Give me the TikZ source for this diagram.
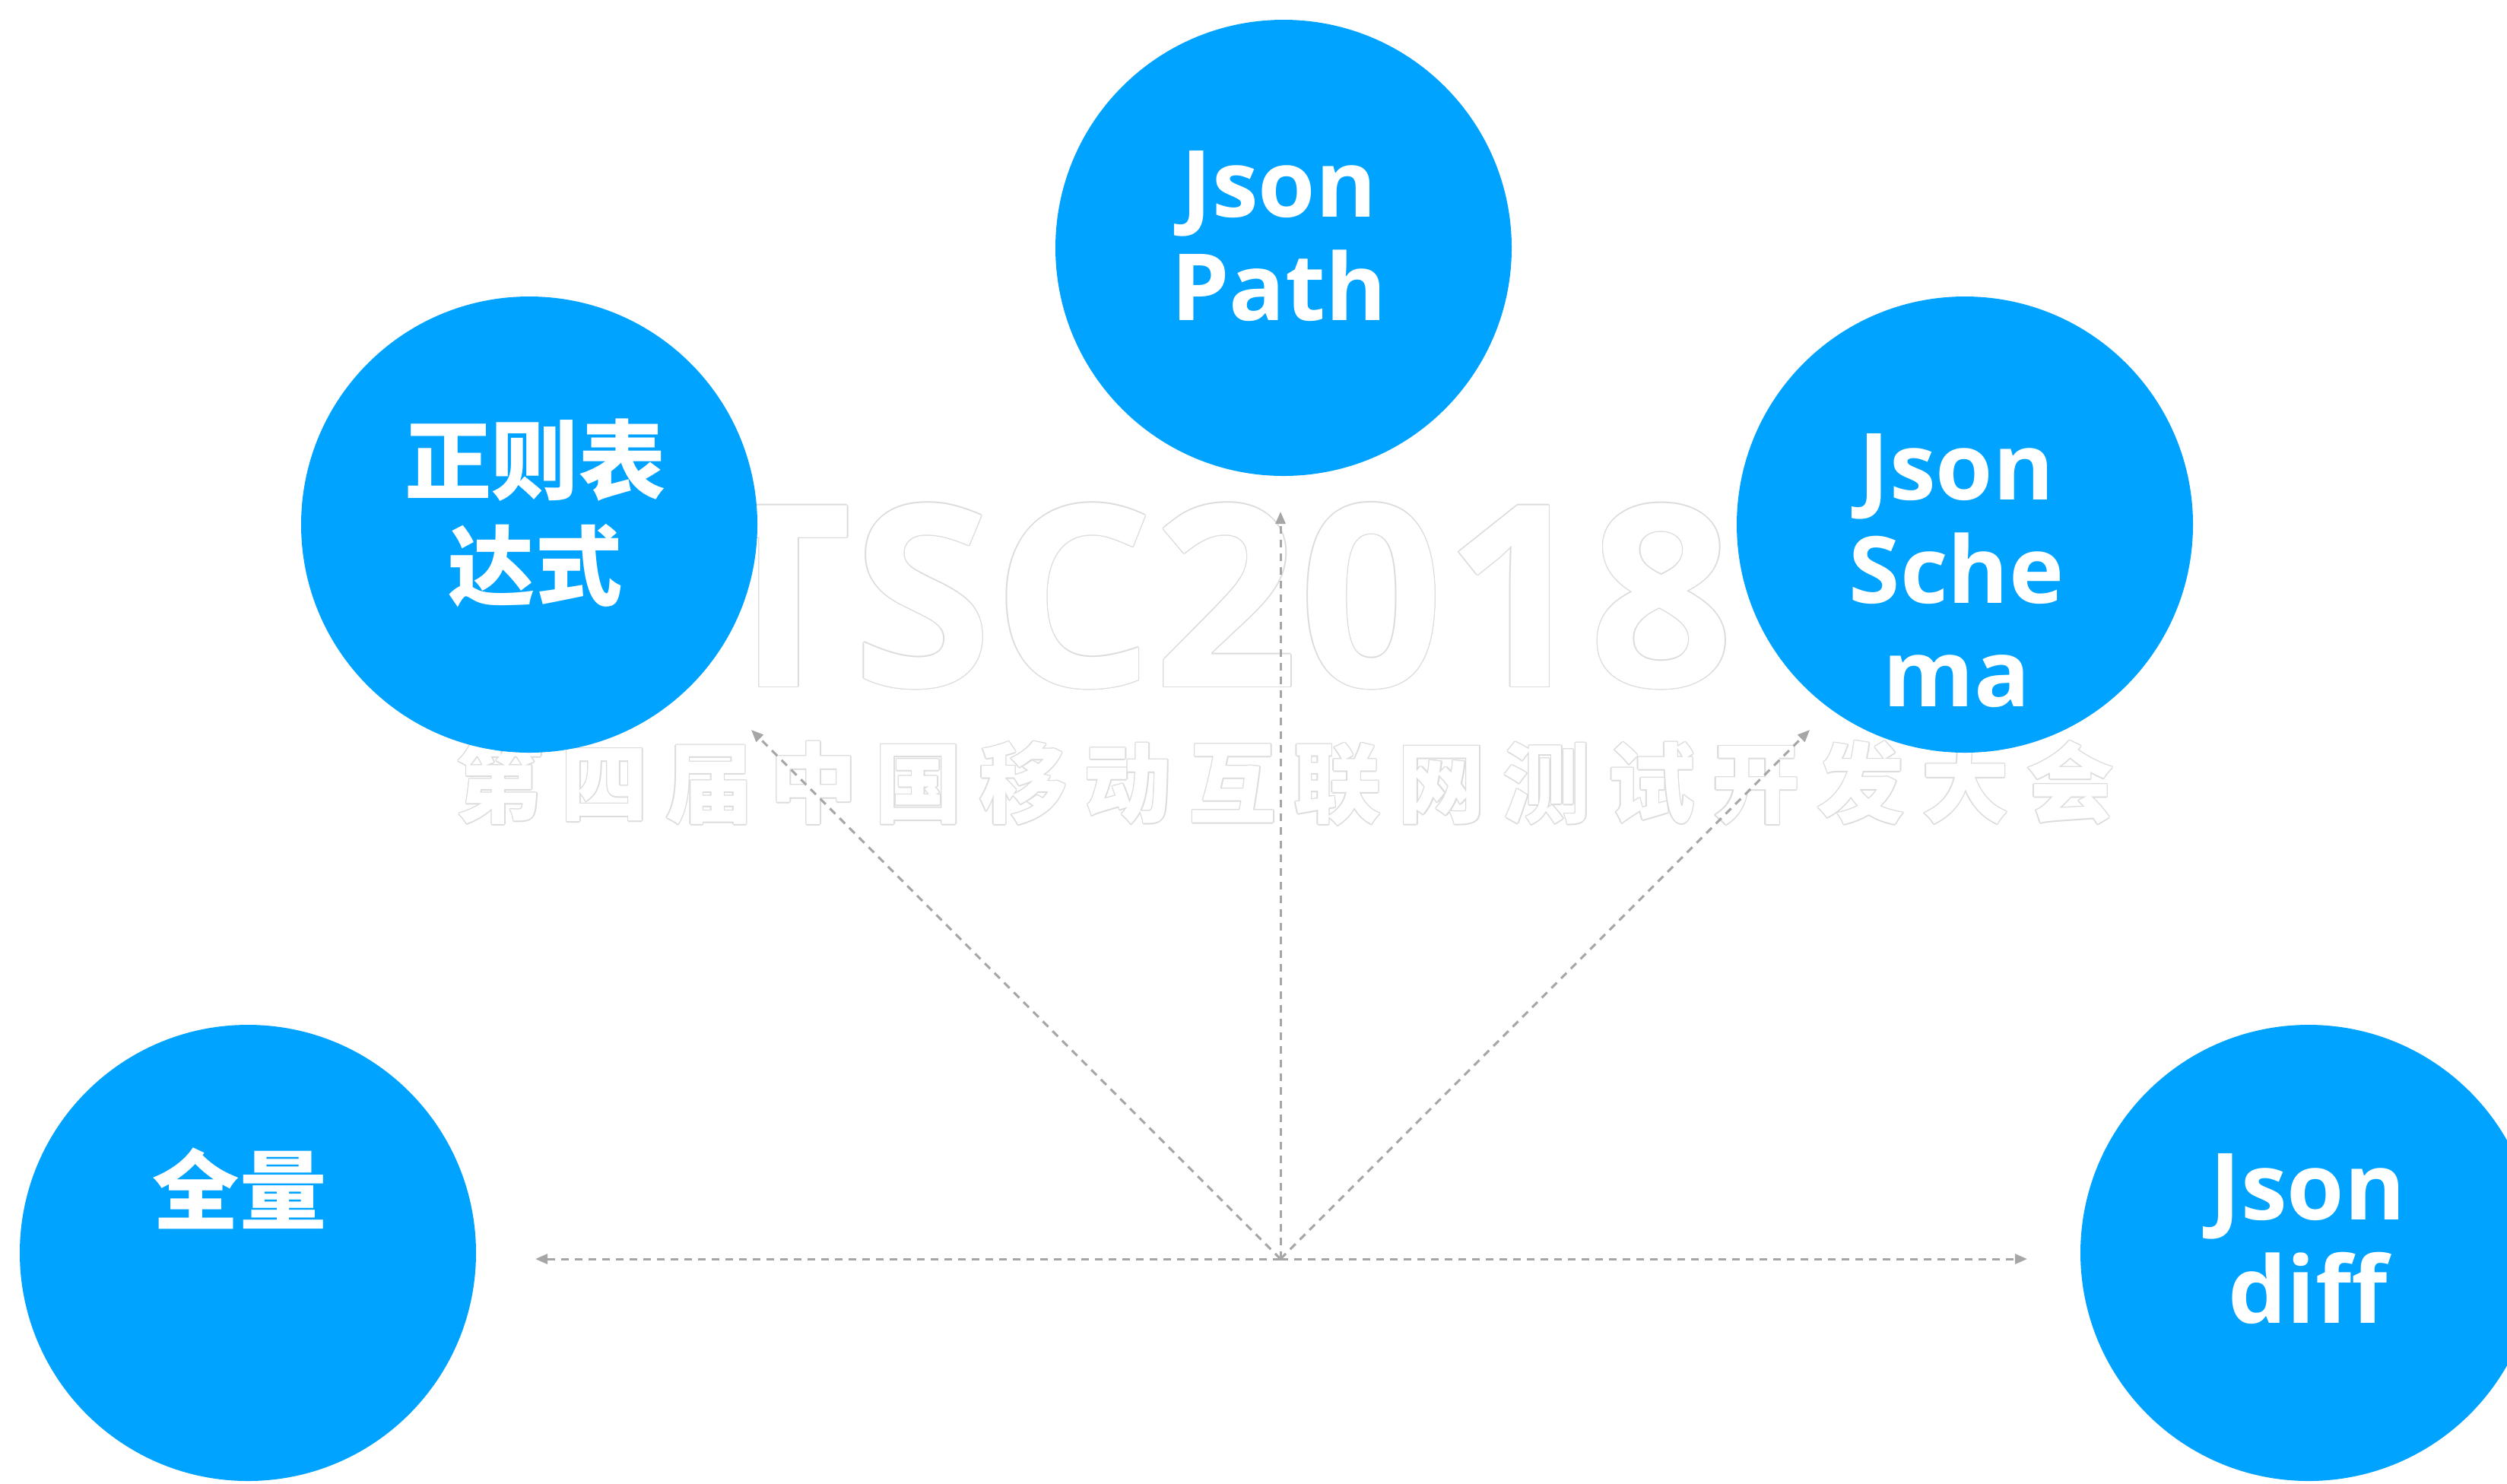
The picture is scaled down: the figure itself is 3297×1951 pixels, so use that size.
\documentclass[tikz,border=0pt]{standalone}
\usepackage{fontspec}
\setmainfont{Open Sans}
\newfontfamily\cjk{Noto Sans CJK SC}
\usetikzlibrary{arrows.meta,calc}
\definecolor{jblue}{RGB}{0,163,255}
\definecolor{arrgray}{RGB}{166,166,166}
\definecolor{wmgray}{RGB}{220,220,220}
\begin{document}
\begin{tikzpicture}[x=0.1mm,y=-0.1mm,
  bubble/.style={circle,fill=jblue,draw=none,minimum size=60mm,inner sep=0pt},
  lat/.style={text=white,font=\fontsize{34.7pt}{38.7pt}\selectfont\bfseries,align=center,inner sep=0pt},
  cjkt/.style={text=white,font=\cjk\bfseries\fontsize{32.5pt}{39.5pt}\selectfont,align=center,inner sep=0pt},
  wmlat/.style={font=\bfseries\fontsize{95pt}{95pt}\selectfont,inner sep=0pt},
  wmcjk/.style={font=\cjk\bfseries\addfontfeature{LetterSpace=19.8}\fontsize{32.7pt}{32.7pt}\selectfont,inner sep=0pt},
  conn/.style={draw=arrgray,line width=0.3mm,dash pattern=on 1mm off 0.8mm,-{Triangle[length=1.6mm,width=1.3mm]}}]
\useasboundingbox (0,0) rectangle (3297,1951);
\clip (0,0) rectangle (3297,1951);
\fill[white] (0,0) rectangle (3297,1951);
% watermark
\coordinate (wmA) at (1604,784);
\coordinate (wmB) at (1690,1030);
\foreach \a [count=\i] in {0,45,...,315} {
  \node[wmlat,text=wmgray] (wa\i) at ($(wmA)+(\a:0.15mm)$) {TSC2018};
  \node[wmcjk,text=wmgray] (wb\i) at ($(wmB)+(\a:0.15mm)$) {第四届中国移动互联网测试开发大会};
}
\node[wmlat,text=white] (wmTSC) at (wmA) {TSC2018};
\node[wmcjk,text=white] (wmConf) at (wmB) {第四届中国移动互联网测试开发大会};
% connectors
\coordinate (O) at (1684,1656);
\coordinate (eL) at (704,1656);
\coordinate (eR) at (2666,1656);
\coordinate (eU) at (1684,673);
\coordinate (eUL) at (988,960);
\coordinate (eUR) at (2380,960);
\draw[conn] (O) -- (eL);
\draw[conn] (O) -- (eR);
\draw[conn] (O) -- (eU);
\draw[conn] (O) -- (eUL);
\draw[conn] (O) -- (eUR);
% circles
\node[bubble] (path) at (1688,326) {};
\node[bubble] (regex) at (696,690) {};
\node[bubble] (schema) at (2584,690) {};
\node[bubble] (full) at (326,1648) {};
\node[bubble] (diff) at (3036,1648) {};
% labels
\node[lat] (pathT) at (1682,311) {Json\\Path};
\node[cjkt] (regexT) at (704,675) {正则表\\达式};
\node[lat] (schemaT) at (2573,751) {Json\\Sche\\ma};
\node[cjkt] (fullT) at (315,1563) {全量};
\node[lat] (diffT) at (3035,1630) {Json\\diff};
\end{tikzpicture}
\end{document}
